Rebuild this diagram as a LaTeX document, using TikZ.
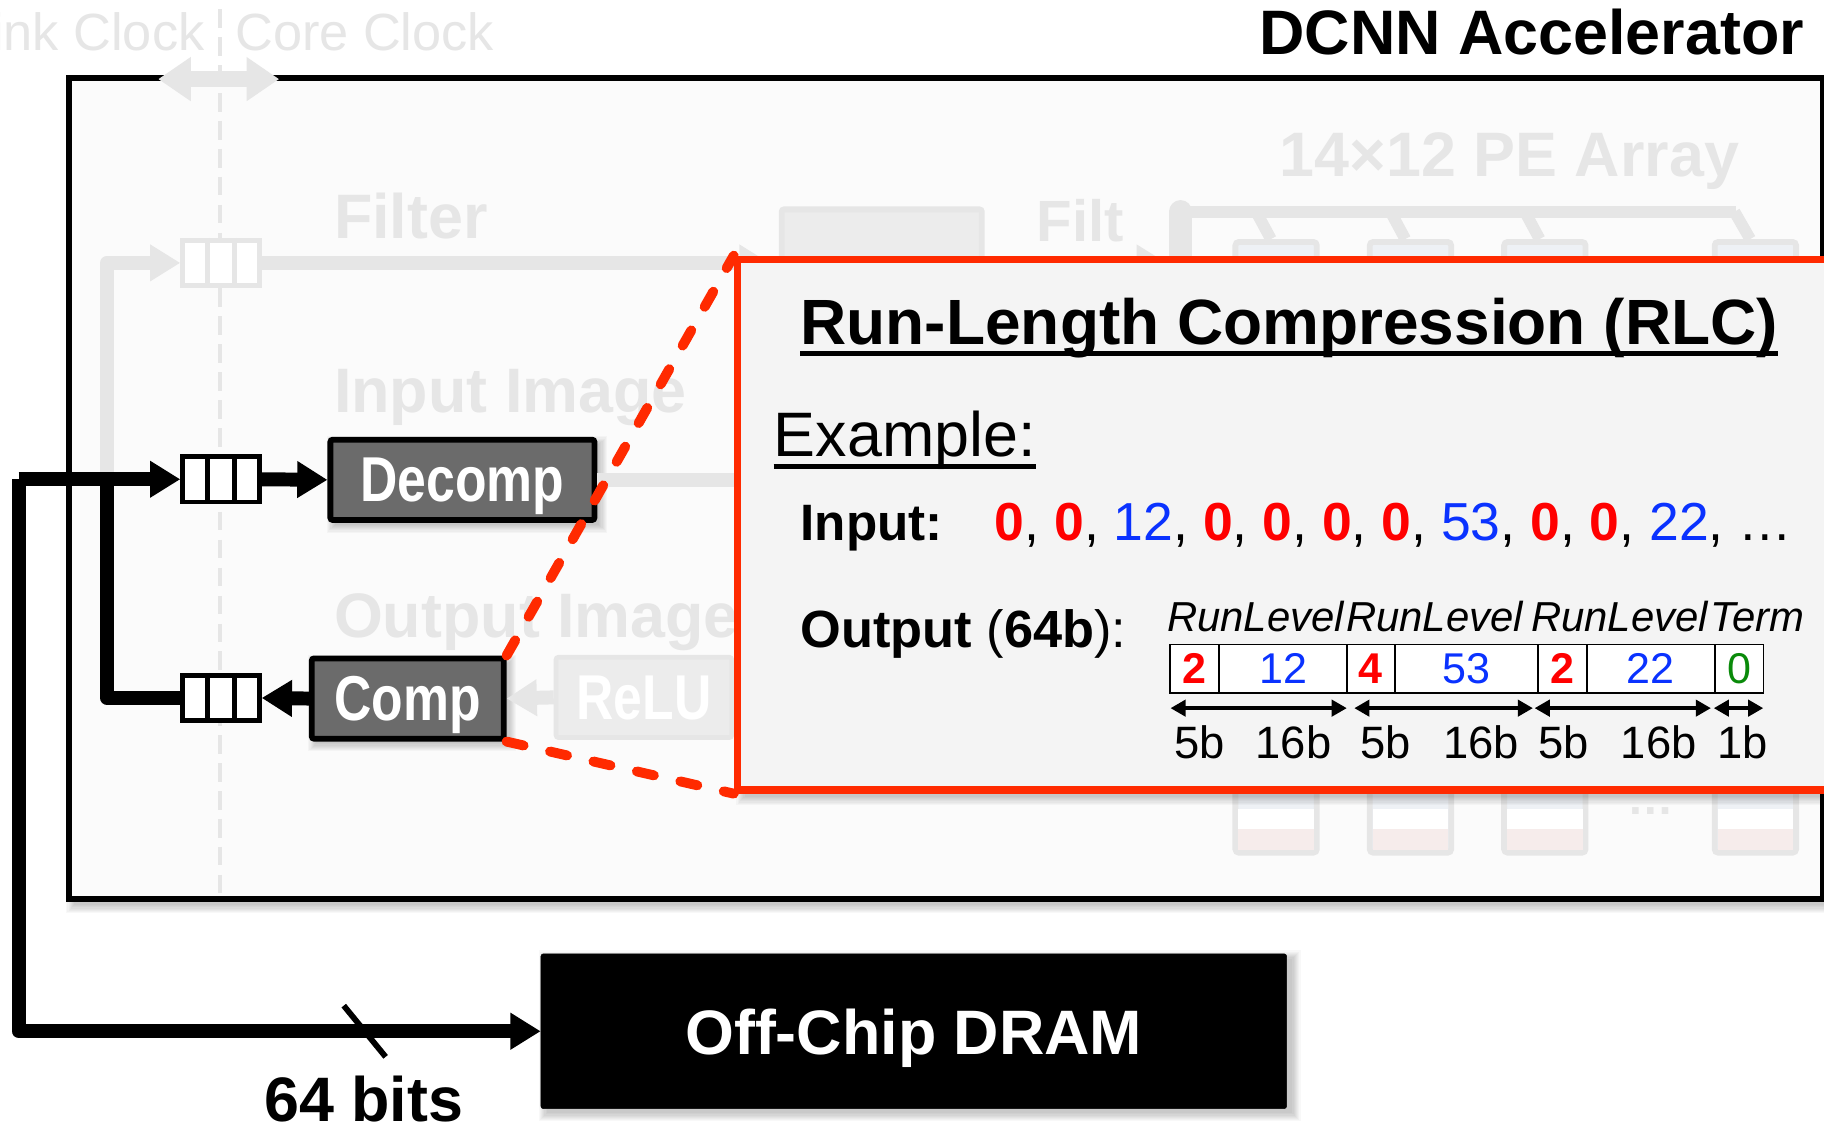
\documentclass[tikz,border=0pt]{standalone}
\usepackage{fontspec}
\setmainfont{Liberation Sans}
\usetikzlibrary{arrows.meta,calc}

\definecolor{fade}{HTML}{E6E6E6}
\definecolor{fadefill}{HTML}{ECECEC}
\definecolor{chipfill}{HTML}{FBFBFB}
\definecolor{rlcfill}{HTML}{F4F4F4}
\definecolor{rlcred}{HTML}{FF2A00}
\definecolor{runred}{HTML}{FF0000}
\definecolor{lvlblue}{HTML}{0A32FF}
\definecolor{termgreen}{HTML}{0A8A0A}
\definecolor{unitgray}{HTML}{6B6B6B}
\definecolor{peblue}{HTML}{EEF1F5}
\definecolor{pepink}{HTML}{F6ECEB}

\newcommand\fsz[1]{\fontsize{#1}{#1}\selectfont}
\newcommand\narrowtext[1]{\scalebox{0.815}[1]{#1}}
\newcommand\runv[1]{{\color{runred}\bfseries #1}}
\newcommand\lvlv[1]{{\color{lvlblue}#1}}
% soft drop shadow under a rectangle given by its corners
\newcommand\softshadow[5][5]{%
  \foreach \k in {0,...,7}{%
    \fill[black,opacity=0.028] (#2+#1-\k,#3+#1-\k) rectangle (#4+#1+\k,#5+#1+\k);
  }%
}
% two cell dividers inside a FIFO node
\newcommand\fifodividers[2]{%
  \draw[#2,line width=4pt] ($(#1.north west)!1/3!(#1.north east)$) -- ($(#1.south west)!1/3!(#1.south east)$);
  \draw[#2,line width=4pt] ($(#1.north west)!2/3!(#1.north east)$) -- ($(#1.south west)!2/3!(#1.south east)$);
}

\tikzset{
  bus/.style={line width=12pt, line join=round},
  tipA/.style={-{Triangle[length=26pt,width=30pt]}},
  unitbox/.style={draw=black, line width=5pt, fill=unitgray, text=white, font=\fsz{54.5}\bfseries, inner sep=0pt, text depth=0pt, rounded corners=2pt},
  fifobox/.style={draw=black, line width=4pt, fill=white, minimum width=66pt, minimum height=39pt, inner sep=0pt},
  ghosttext/.style={text=fade, font=\fsz{54}\bfseries, inner sep=0pt, anchor=base west},
  ghostline/.style={draw=fade, line width=12pt, line join=round},
  pecol/.style={draw=fade, line width=5pt, fill=peblue, rounded corners=3pt, minimum width=70pt, minimum height=525pt, inner sep=0pt},
  cellbox/.style={draw=black, line width=1.5pt, fill=white, minimum height=42pt, inner sep=0pt, font=\fsz{37}},
  bitlabel/.style={font=\fsz{39}, inner sep=0pt, anchor=base},
  fieldlabel/.style={font=\fsz{36}\itshape, inner sep=0pt, anchor=base west},
  dimarrow/.style={line width=3pt, {Triangle[length=13pt,width=14pt]}-{Triangle[length=13pt,width=14pt]}},
  zoomdash/.style={draw=rlcred, line width=8.5pt, line cap=round, dash pattern=on 15pt off 23.3pt},
  rlctext/.style={inner sep=0pt, anchor=base west},
}

\begin{document}
\begin{tikzpicture}[x=1pt,y=-1pt]
\useasboundingbox (0,0) rectangle (1568,971);
\fill[white] (0,0) rectangle (1568,971);

% ---------- accelerator frame ----------
\softshadow{59}{67}{1567}{773}
\draw[line width=5pt, fill=chipfill] (59,67) rectangle (1567,773);
\node[font=\fsz{54}\bfseries, inner sep=0pt, anchor=base east] (acctitle) at (1551,47) {DCNN Accelerator};

% ---------- clock domain boundary (faded) ----------
\draw[fade, line width=4pt, dash pattern=on 16pt off 8pt] (189,8) -- (189,772);
\node[ghosttext, font=\fsz{45}, anchor=base east] (linkclk) at (176,43) {Link Clock};
\node[ghosttext, font=\fsz{45}] (coreclk) at (202,43) {Core Clock};
\coordinate (clkL) at (136,68);
\coordinate (clkR) at (240,68);
\draw[fade, line width=14pt, {Triangle[length=28pt,width=36pt]}-{Triangle[length=28pt,width=36pt]}] (clkL) -- (clkR);

% ---------- faded datapath ----------
\node[ghosttext] (filtlbl) at (287,205) {Filter};
\node[ghosttext] (inimglbl) at (287,355) {Input Image};
\node[ghosttext] (outimglbl) at (287,548) {Output Image};
\node[ghosttext] (pelbl) at (1100,152) {14×12 PE Array};
\node[ghosttext, font=\fsz{50}\bfseries] (filt2lbl) at (891,208) {Filt};

\node[fifobox, draw=fade] (fifoF) at (190,226) {};
\fifodividers{fifoF}{fade}
\node[draw=fade, line width=5pt, fill=fadefill, rounded corners=2pt, minimum width=172pt, minimum height=120pt] (fbuf) at (758,240) {};

\coordinate (jn) at (92,412);
\draw[ghostline, tipA] (jn) |- (fifoF.west);
\draw[ghostline, -{Triangle[length=26pt,width=30pt]}] (fifoF.east) -- ($(fifoF.east -| fbuf.west)+(-8,0)$);
\coordinate (pebar) at (1015,182);
\draw[ghostline, -{Triangle[length=26pt,width=30pt]}] (fifoF.east -| fbuf.east) -- ($(fifoF.east -| pebar)+(-12,0)$);

% PE array columns and their filter bus
\node[pecol] (pe1) at (1097,470.5) {};
\node[pecol] (pe2) at (1212.5,470.5) {};
\node[pecol] (pe3) at (1328,470.5) {};
\node[pecol] (pe4) at (1509,470.5) {};
\foreach \c in {pe1,pe2,pe3,pe4}{
  \fill[white] ($(\c.south west)+(5,-40)$) rectangle ($(\c.south east)+(-5,-23)$);
  \fill[pepink] ($(\c.south west)+(5,-23)$) rectangle ($(\c.south east)+(-5,-5)$);
}
\draw[fade, line width=20pt, line cap=round] (pebar) -- ++(0,200);
\draw[fade, line width=10pt] (pebar) -- (1492,182);
\foreach \c in {pe1,pe2,pe3}{
  \draw[fade, line width=10pt] ($(\c.north west)+(19,-26)$) -- ($(\c.north west)+(33,0)$);
}
\draw[fade, line width=10pt] (1491,182) -- ($(pe4.north west)+(33,0)$);
\node[text=fade, font=\fsz{40}\bfseries, inner sep=0pt] (pedots) at (1419,697) {…};

% input image path and ReLU (faded)
\node[unitbox, draw=fade, line width=4pt, fill=fadefill, minimum width=151pt, minimum height=69pt] (relu) at (553.5,599.5) {\narrowtext{ReLU}};

% ---------- active units ----------
\softshadow[4]{284}{378}{511}{447}
\node[unitbox, minimum width=227pt, minimum height=69pt] (decomp) at (397.5,412.5) {\narrowtext{Decomp}};
\softshadow[4]{268}{566}{433}{635}
\node[unitbox, minimum width=165pt, minimum height=69pt] (comp) at (350.5,600.5) {\narrowtext{Comp}};
\draw[ghostline] (decomp.east) -- ++(160,0);
\draw[ghostline, -{Triangle[length=26pt,width=30pt]}] (relu.west) -- (comp.east);

\node[fifobox] (fifoD) at (190,412) {};
\fifodividers{fifoD}{black}
\node[fifobox] (fifoC) at (190,600) {};
\fifodividers{fifoC}{black}

\softshadow[5]{465}{819}{1106}{952}
\node[draw=black, fill=black, rounded corners=2pt, minimum width=641pt, minimum height=133pt, text=white, text depth=0pt, font=\fsz{54}\bfseries] (dram) at (785.5,886.5) {Off-Chip DRAM};

% off-chip bus
\coordinate (busTop) at (16,412);
\draw[bus, tipA] (busTop) -- (fifoD.west);
\draw[bus, tipA] (busTop) -- (busTop |- dram.west) -- (dram.west);
\draw[bus, tipA] (fifoD.east) -- (decomp.west);
\draw[bus, tipA] (comp.west) -- (fifoC.east);
\draw[bus] (fifoC.west) -| (jn);
\coordinate (tick) at (313.5,886.5);
\draw[line width=5pt] ($(tick)+(-18,-22)$) -- ($(tick)+(18,22)$);
\node[font=\fsz{54}\bfseries, inner sep=0pt, anchor=base west] (buswidth) at (227,964) {64 bits};

% ---------- RLC detail panel ----------
\softshadow[6]{634}{223}{1640}{679}
\node[draw=rlcred, line width=6.5pt, fill=rlcfill, minimum width=1000pt, minimum height=456pt, inner sep=0pt] (rlc) at (1134,451) {};

\node[rlctext, font=\fsz{55}\bfseries] (rlctitle) at (688,296) {Run-Length Compression (RLC)};
\draw[line width=4pt] ($(rlctitle.base west)+(0,8)$) -- ($(rlctitle.base east)+(0,8)$);
\node[rlctext, font=\fsz{54}] (example) at (665,392) {Example:};
\draw[line width=3.5pt] ($(example.base west)+(0,9)$) -- ($(example.base east)+(0,9)$);

\node[rlctext, font=\fsz{44}\bfseries] (inlabel) at (688,465) {Input:};
\node[rlctext, font=\fsz{46}] (inseq) at (855,465)
  {\runv{0}, \runv{0}, \lvlv{12}, \runv{0}, \runv{0}, \runv{0}, \runv{0}, \lvlv{53}, \runv{0}, \runv{0}, \lvlv{22}, …};
\node[rlctext, font=\fsz{45}] (outlabel) at (688,557) {\textbf{Output} (\textbf{64b}):};

\node[fieldlabel] (f1) at (1003,543) {RunLevel};
\node[fieldlabel] (f2) at (1157,543) {RunLevel};
\node[fieldlabel] (f3) at (1316,543) {RunLevel};
\node[fieldlabel] (f4) at (1470,543) {Term};

\node[cellbox, minimum width=42pt] (c1) at (1027,575) {\runv{2}};
\node[cellbox, minimum width=110pt] (c2) at (1103,575) {\lvlv{12}};
\node[cellbox, minimum width=41pt] (c3) at (1178.5,575) {\runv{4}};
\node[cellbox, minimum width=123pt] (c4) at (1260.5,575) {\lvlv{53}};
\node[cellbox, minimum width=42pt] (c5) at (1343,575) {\runv{2}};
\node[cellbox, minimum width=110pt] (c6) at (1419,575) {\lvlv{22}};
\node[cellbox, minimum width=42pt] (c7) at (1495,575) {\textcolor{termgreen}{0}};

\draw[dimarrow] ($(c1.south west)+(1,12)$) -- ($(c2.south east)+(-1,12)$);
\draw[dimarrow] ($(c3.south west)+(7,12)$) -- ($(c4.south east)+(-5,12)$);
\draw[dimarrow] ($(c5.south west)+(-2,12)$) -- ($(c6.south east)+(-4,12)$);
\draw[dimarrow] ($(c7.south west)+(0,12)$) -- ($(c7.south east)+(-1,12)$);

\node[bitlabel] (b1) at (1031,652) {5b};
\node[bitlabel] (b2) at (1112,652) {16b};
\node[bitlabel] (b3) at (1191,652) {5b};
\node[bitlabel] (b4) at (1273,652) {16b};
\node[bitlabel] (b5) at (1344,652) {5b};
\node[bitlabel] (b6) at (1426,652) {16b};
\node[bitlabel] (b7) at (1498,652) {1b};

% ---------- zoom lines from the compressor to the panel ----------
\draw[zoomdash] (comp.north east) -- (rlc.north west);
\draw[zoomdash] (comp.south east) -- (rlc.south west);
\end{tikzpicture}
\end{document}
